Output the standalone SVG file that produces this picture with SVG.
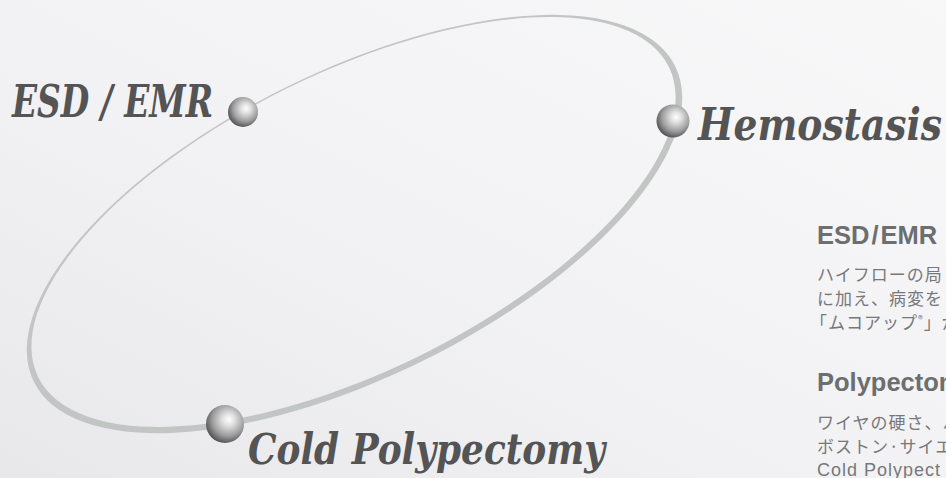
<svg xmlns="http://www.w3.org/2000/svg" width="946" height="478" viewBox="0 0 946 478">
  <defs>
    <linearGradient id="bg" x1="1" y1="0" x2="0" y2="1">
      <stop offset="0" stop-color="#f8f8f9"/>
      <stop offset="0.55" stop-color="#f2f2f4"/>
      <stop offset="1" stop-color="#e8e8ea"/>
    </linearGradient>
    <radialGradient id="ball" cx="0.58" cy="0.4" r="0.65" fx="0.6" fy="0.38">
      <stop offset="0" stop-color="#ffffff"/>
      <stop offset="0.25" stop-color="#e0e0e0"/>
      <stop offset="0.65" stop-color="#9c9c9c"/>
      <stop offset="1" stop-color="#474747"/>
    </radialGradient>
    <style>
      .lbl { font-family: "DejaVu Serif", "Liberation Serif", serif; font-weight: bold; font-style: italic; fill: #545454; }
      .ball { fill: url(#ball); }
      .hd { font-family: "Liberation Sans", Arial, "Noto Sans CJK JP", sans-serif; font-weight: bold; font-size: 25.5px; fill: #6c6e70; }
      .bd { font-family: "Noto Sans CJK JP", "Liberation Sans", sans-serif; font-size: 17px; letter-spacing: 1px; fill: #77787a; }
      .bdl { font-family: "Liberation Sans", Arial, sans-serif; font-size: 18px; letter-spacing: 1px; fill: #77787a; }
    </style>
  </defs>
  <rect width="946" height="478" fill="url(#bg)"/>

  <g id="connectors">
    <g transform="translate(354,223) rotate(-26.2)">
      <path fill="#c3c5c4" fill-rule="evenodd" d="M -357.4 1.125 A 357.4 152.975 0 1 0 357.4 1.125 A 357.4 152.975 0 1 0 -357.4 1.125 Z M -351.4 -1.125 A 351.4 149.225 0 1 0 351.4 -1.125 A 351.4 149.225 0 1 0 -351.4 -1.125 Z"/>
    </g>
  </g>

  <g id="node-esd-emr">
    <circle class="ball" cx="243" cy="112" r="15"/>
    <text class="lbl" x="12" y="117" font-size="45" textLength="201" lengthAdjust="spacingAndGlyphs">ESD / EMR</text>
  </g>
  <g id="node-hemostasis">
    <circle class="ball" cx="673" cy="121" r="16.5"/>
    <text class="lbl" x="698" y="140" font-size="44" textLength="244" lengthAdjust="spacingAndGlyphs">Hemostasis</text>
  </g>
  <g id="node-cold-polypectomy">
    <circle class="ball" cx="225" cy="424" r="19"/>
    <text class="lbl" x="248" y="464" font-size="42" textLength="357" lengthAdjust="spacingAndGlyphs">Cold Polypectomy</text>
  </g>

  <g id="description">
    <text class="hd" x="817" y="244" font-size="20">ESD<tspan dx="2">/</tspan><tspan dx="2">EMR</tspan></text>
    <text class="bd" x="817" y="281">ハイフローの局</text>
    <text class="bd" x="817" y="305">に加え、病変を</text>
    <text class="bd" x="810" y="329">「ムコアップ<tspan font-size="10" dy="-6">®</tspan><tspan dy="6">」が</tspan></text>
    <text class="hd" x="817" y="391">Polypectomy</text>
    <text class="bd" x="817" y="429">ワイヤの硬さ、ハ</text>
    <text class="bd" x="817" y="453">ボストン·サイエ</text>
    <text class="bdl" x="817" y="476">Cold Polypect</text>
  </g>
</svg>
